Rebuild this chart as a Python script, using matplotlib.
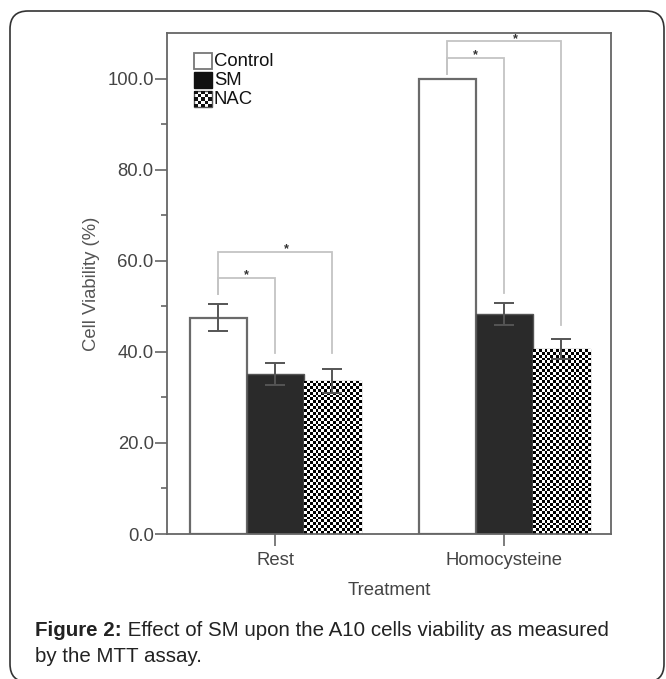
import numpy as np
import matplotlib
matplotlib.use("Agg")
import matplotlib.pyplot as plt
import matplotlib.patches as mpatches

plt.rcParams["font.family"] = ["Liberation Sans", "DejaVu Sans"]

groups = ["Rest", "Homocysteine"]
series = ["Control", "SM", "NAC"]
values = {
    "Control": [47.5, 100.0],
    "SM": [35.1, 48.3],
    "NAC": [33.6, 40.6],
}
errors = {
    "Control": [3.0, 0.0],
    "SM": [2.4, 2.5],
    "NAC": [2.7, 2.2],
}
# (group, left series, right series, left start, top, right end, star pos)
brackets = [
    (0, "Control", "SM", 52.8, 56.3, 39.7, 0.5),
    (0, "Control", "NAC", 52.8, 62.0, 39.7, 0.6),
    (1, "Control", "SM", 101.1, 104.6, 53.0, 0.5),
    (1, "Control", "NAC", 101.1, 108.2, 45.9, 0.6),
]

w = 0.249
offsets = {"Control": -w, "SM": 0.0, "NAC": w}
xpos = np.arange(len(groups))

fig = plt.figure(figsize=(6.66, 6.79), dpi=100)
ax = fig.add_axes([0.2508, 0.2135, 0.6666, 0.7379])

text_col = "#444444"
spine_col = "#666666"


def checker(ax, patch, x0, x1, h):
    # checkerboard texture for the NAC bars
    cols = 20
    rows = max(2, int(round(h * 4.53 / 2.85)))
    board = (np.indices((rows, cols)).sum(axis=0) % 2).astype(float)
    im = ax.imshow(board, extent=(x0, x1, 0, h), cmap="gray", vmin=0, vmax=1,
                   interpolation="nearest", aspect="auto", zorder=2)
    im.set_clip_path(patch)


for s in series:
    xs = xpos + offsets[s]
    if s == "Control":
        bars = ax.bar(xs, values[s], w, color="white", edgecolor="#6a6a6a",
                      linewidth=1.6, zorder=2)
    elif s == "SM":
        bars = ax.bar(xs, values[s], w, color="#2a2a2a", edgecolor="#555555",
                      linewidth=1.0, zorder=2)
    else:
        bars = ax.bar(xs, values[s], w, color="white", edgecolor="#888888",
                      linewidth=1.0, zorder=2)
        for b, v in zip(bars, values[s]):
            checker(ax, b, b.get_x(), b.get_x() + w, v)
    for x, v, e in zip(xs, values[s], errors[s]):
        if e > 0:
            ax.errorbar(x, v, yerr=e, color="#555555", capsize=7, elinewidth=1.4,
                        capthick=1.4, zorder=4)

for g, a, b, y0, top, y1, frac in brackets:
    xa = xpos[g] + offsets[a]
    xb = xpos[g] + offsets[b]
    ax.plot([xa, xa, xb, xb], [y0, top, top, y1], color="#c4c4c4", lw=1.3,
            zorder=3, solid_joinstyle="miter")
    ax.text(xa + frac * (xb - xa), top + 0.5, "*", ha="center", va="center",
            fontsize=9, fontweight="bold", color="#333333", zorder=5)

ax.set_xlim(-0.472, 1.467)
ax.set_ylim(0, 110)
ax.set_xticks(xpos)
ax.set_xticklabels(groups)
ax.set_yticks(np.arange(0, 101, 20))
ax.set_yticklabels([f"{t:.1f}" for t in np.arange(0, 101, 20)])
ax.set_yticks(np.arange(10, 100, 20), minor=True)
ax.tick_params(axis="both", which="major", length=8.6, width=1.2, colors=spine_col,
               labelcolor=text_col, labelsize=13.3, pad=1)
ax.tick_params(axis="x", which="major", pad=4)
ax.tick_params(axis="y", which="minor", length=4.3, width=1.2, colors=spine_col)
for sp in ax.spines.values():
    sp.set_color(spine_col)
    sp.set_linewidth(1.3)

ax.set_xlabel("Treatment", fontsize=13.3, color=text_col, labelpad=10)
ax.set_ylabel("Cell Viability (%)", fontsize=13.3, color="#555555", labelpad=5)

# legend drawn by hand, upper left
lx0, lx1 = (194 - 167) / 444, (212 - 167) / 444
rows_y = [61, 80, 99]
for s, py in zip(series, rows_y):
    yc = (534 - py) / 501
    hh = 16 / 501
    if s == "Control":
        ax.add_patch(mpatches.Rectangle((lx0, yc - hh / 2), lx1 - lx0, hh,
                                        transform=ax.transAxes, facecolor="white",
                                        edgecolor="#777777", lw=1.3, zorder=6))
    elif s == "SM":
        ax.add_patch(mpatches.Rectangle((lx0, yc - hh / 2), lx1 - lx0, hh,
                                        transform=ax.transAxes, facecolor="#111111",
                                        edgecolor="#111111", lw=1.0, zorder=6))
    else:
        n = 5
        cw = (lx1 - lx0) / n
        ch = hh / n
        ax.add_patch(mpatches.Rectangle((lx0, yc - hh / 2), lx1 - lx0, hh,
                                        transform=ax.transAxes, facecolor="white",
                                        edgecolor="#555555", lw=1.0, zorder=6))
        for i in range(n):
            for j in range(n):
                if (i + j) % 2 == 0:
                    ax.add_patch(mpatches.Rectangle((lx0 + i * cw, yc - hh / 2 + j * ch),
                                                    cw, ch, transform=ax.transAxes,
                                                    facecolor="#111111", lw=0, zorder=7))
    ax.text(lx1 + 0.004, yc, s, transform=ax.transAxes, ha="left", va="center",
            fontsize=13.3, color="#111111", zorder=7)

# caption
cap_size = 14.8
cap1 = fig.text(35 / 666, 1 - 631 / 679, "Figure 2:", fontsize=cap_size, fontweight="bold",
                color="#222222", va="center", ha="left")
ax.annotate(" Effect of SM upon the A10 cells viability as measured", xy=(1, 0.5),
            xycoords=cap1, fontsize=cap_size, color="#222222", va="center", ha="left",
            annotation_clip=False)
fig.text(35 / 666, 1 - 656 / 679, "by the MTT assay.", fontsize=cap_size, color="#222222",
         va="center", ha="left")

# rounded frame around the figure
frame = mpatches.FancyBboxPatch((10, -3), 654, 671, boxstyle="round,pad=0,rounding_size=18",
                                transform=None, facecolor="none", edgecolor="#333333",
                                lw=1.2)
fig.patches.append(frame)

fig.savefig("out.png", dpi=100)
